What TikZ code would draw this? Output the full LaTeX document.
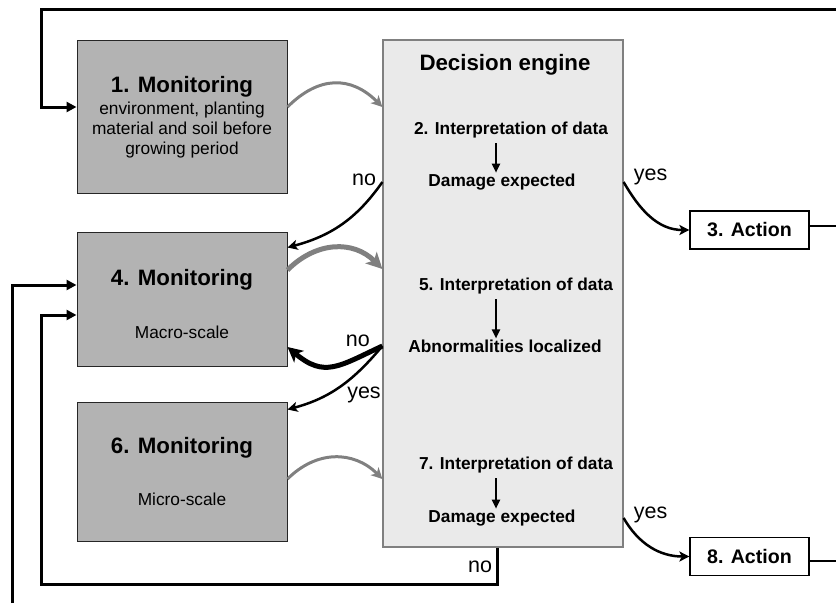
\documentclass[tikz,border=0pt]{standalone}
\usepackage{fontspec}
\setmainfont{Liberation Sans}
\usetikzlibrary{arrows.meta}
\definecolor{boxgray}{RGB}{179,179,179}
\definecolor{enginegray}{RGB}{234,234,234}
\definecolor{feedgray}{RGB}{128,128,128}
\tikzset{
  monbox/.style={draw=black!85, fill=boxgray, line width=1pt, minimum width=210pt, inner sep=0pt},
  montitle/.style={font=\fontsize{22.3}{26}\selectfont\bfseries, inner sep=1pt},
  monsub/.style={font=\fontsize{17.3}{20}\selectfont, align=center, inner sep=1pt},
  steptext/.style={font=\fontsize{17.3}{20}\selectfont\bfseries, inner sep=1pt},
  actbox/.style={draw, line width=1.2pt, fill=white, minimum width=119pt, minimum height=38pt, font=\fontsize{19.6}{22}\selectfont\bfseries},
  lbl/.style={font=\fontsize{21.5}{24}\selectfont, inner sep=1pt},
  loopline/.style={line width=3pt, -{Triangle[length=10pt,width=10pt]}},
  feedthin/.style={draw=feedgray, line width=3pt, -{Stealth[length=11pt,width=11pt,inset=3pt]}},
  feedthick/.style={draw=feedgray, line width=5pt, -{Stealth[length=16pt,width=16pt,inset=4pt]}},
  decthin/.style={line width=2.5pt, -{Stealth[length=10pt,width=10pt,inset=2.5pt]}},
  decthick/.style={line width=5pt, -{Stealth[length=15pt,width=15pt,inset=4pt]}},
  steparrow/.style={line width=2pt, shorten <=4pt, -{Triangle[length=9pt,width=8pt]}}
}
\begin{document}
\begin{tikzpicture}[x=1pt,y=1pt]
    \useasboundingbox (0,0) rectangle (836,-603);
    % monitoring boxes
    \node[monbox, minimum height=153pt] (mon1) at (182,-116.5) {};
    \node[monbox, minimum height=134pt] (mon4) at (182,-299) {};
    \node[monbox, minimum height=139pt] (mon6) at (182,-471.5) {};
    \node[montitle] at (182,-87) {1. Monitoring};
    \node[monsub] at (182,-130) {environment, planting\\material and soil before\\growing period};
    \node[montitle] at (182,-280) {4. Monitoring};
    \node[monsub] at (182,-332) {Macro-scale};
    \node[montitle] at (182,-448) {6. Monitoring};
    \node[monsub] at (182,-499) {Micro-scale};
    % decision engine
    \node[draw=feedgray, fill=enginegray, line width=1.2pt, minimum width=240pt, minimum height=507pt, inner sep=0pt] (de) at (503,-293.5) {};
    \node[montitle] at (505,-65) {Decision engine};
    \node[steptext] (int2) at (511,-130) {2. Interpretation of data};
    \node[steptext] (dam2) at (502,-182) {Damage expected};
    \node[steptext] (int5) at (516,-286) {5. Interpretation of data};
    \node[steptext] (abn) at (505,-346) {Abnormalities localized};
    \node[steptext] (int7) at (516,-465) {7. Interpretation of data};
    \node[steptext] (dam7) at (502,-518) {Damage expected};
    \draw[steparrow] ([xshift=-6pt]dam2.north |- int2.south) -- ([xshift=-6pt]dam2.north);
    \draw[steparrow] ([xshift=-9pt]abn.north |- int5.south) -- ([xshift=-9pt]abn.north);
    \draw[steparrow] ([xshift=-6pt]dam7.north |- int7.south) -- ([xshift=-6pt]dam7.north);
    % actions
    \node[actbox] (act3) at (749.5,-230) {3. Action};
    \node[actbox] (act8) at (749.5,-556.5) {8. Action};
    % feeds into the engine
    \draw[feedthin] ([yshift=9.5pt]mon1.east) to[out=45,in=135,looseness=1.2] ([yshift=9.5pt]mon1.east -| de.west);
    \draw[feedthick] ([yshift=29pt]mon4.east) to[out=45,in=135,looseness=1.1] ([yshift=30pt]mon4.east -| de.west);
    \draw[feedthin] ([yshift=-7.5pt]mon6.east) to[out=45,in=135,looseness=1.1] ([yshift=-7.5pt]mon6.east -| de.west);
    % decisions
    \draw[decthin] (de.west |- dam2) node[lbl, anchor=east, xshift=-4pt, yshift=2pt]{no} to[out=-125,in=15] ([yshift=-16pt]mon4.north east);
    \draw[decthin] (de.east |- dam2) node[lbl, anchor=west, xshift=8pt, yshift=5pt]{yes} to[out=-60,in=180] (act3.west);
    \draw[decthick] (de.west |- abn) node[lbl, anchor=east, xshift=-9pt, yshift=5pt]{no} to[out=205,in=-40,looseness=1.3] ([yshift=-48pt]mon4.east);
    \draw[decthin] (de.west |- abn) to[out=-130,in=15] ([yshift=-8pt]mon6.north east);
    \node[lbl] (yes5) at (364,-395) {yes};
    \draw[decthin] (de.east |- dam7) node[lbl, anchor=west, xshift=8pt, yshift=3pt]{yes} to[out=-60,in=180] (act8.west);
    % feedback loops
    \coordinate (topA) at (836,-9);
    \coordinate (topB) at (41,-9);
    \coordinate (noturn) at (497,-584);
    \coordinate (leftB) at (41,-584);
    \coordinate (leftA) at (12,-603);
    \coordinate (rightA) at (836,0);
    \draw[loopline] (topA) -- (topB) |- ([yshift=9.5pt]mon1.west);
    \draw[loopline] (de.south -| noturn) -- (noturn) -- (leftB) |- ([yshift=-16pt]mon4.west);
    \node[lbl] (no7) at (480,-567) {no};
    \draw[loopline] (leftA) |- ([yshift=14pt]mon4.west);
    \draw[line width=2.5pt] ([yshift=4pt]act3.east) -- ([yshift=4pt]act3.east -| rightA);
    \draw[line width=2.5pt] ([yshift=-4.5pt]act8.east) -- ([yshift=-4.5pt]act8.east -| rightA);
\end{tikzpicture}
\end{document}
